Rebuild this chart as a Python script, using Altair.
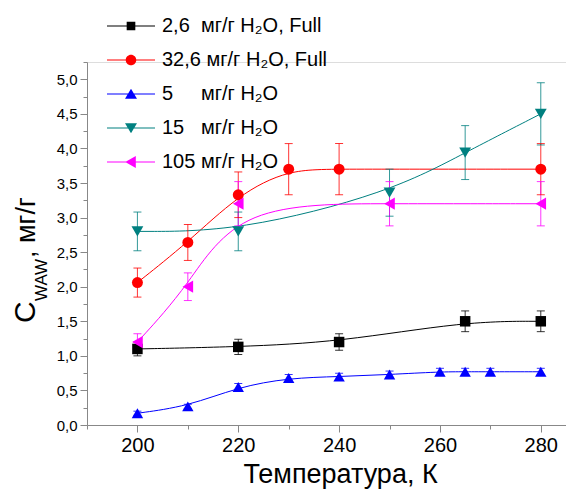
import altair as alt
import pandas as pd

FONT = "Liberation Sans"

LABELS = ["2,6\u00a0 мг/г H₂O, Full", "32,6 мг/г H₂O, Full", "5\u2007\u2007 мг/г H₂O",
          "15\u2007 мг/г H₂O", "105 мг/г H₂O"]
COLORS = ["#000000", "#ff0000", "#0000ff", "#008080", "#ff00ff"]
SHAPES = ["square", "circle", "triangle-up", "triangle-down", "triangle-left"]
SIZES = [110, 150, 170, 170, 170]

# legend symbols: line + marker (custom paths)
LINE = "M-1,-0.022H1V0.022H-1Z"
PATHS = [
    LINE + "M-0.18,-0.18H0.18V0.18H-0.18Z",
    LINE + "M-0.22,0A0.22,0.22,0,1,1,0.22,0A0.22,0.22,0,1,1,-0.22,0Z",
    LINE + "M0,-0.22L0.25,0.2L-0.25,0.2Z",
    LINE + "M0,0.22L-0.25,-0.2L0.25,-0.2Z",
    LINE + "M-0.24,0L0.2,-0.25L0.2,0.25Z",
]

# data
T1 = [200, 220, 240, 265, 280]
C1 = [1.10, 1.13, 1.20, 1.50, 1.50]
E1 = [0.10, 0.11, 0.12, 0.15, 0.15]

T2 = [200, 210, 220, 230, 240, 280]
C2 = [2.06, 2.64, 3.33, 3.70, 3.70, 3.70]
E2 = [0.21, 0.26, 0.33, 0.37, 0.37, 0.37]

T3 = [200, 210, 220, 230, 240, 250, 260, 265, 270, 280]
C3 = [0.17, 0.27, 0.55, 0.68, 0.70, 0.73, 0.77, 0.77, 0.77, 0.77]
E3 = [0.03, 0.03, 0.05, 0.05, 0.05, 0.05, 0.05, 0.05, 0.05, 0.05]

T4 = [200, 220, 250, 265, 280]
C4 = [2.80, 2.80, 3.36, 3.94, 4.50]
E4 = [0.28, 0.28, 0.34, 0.39, 0.45]

T5 = [200, 210, 220, 250, 280]
C5 = [1.20, 2.00, 3.20, 3.20, 3.20]
E5 = [0.12, 0.20, 0.32, 0.32, 0.32]

rows = []
for lab, T, C, E in zip(LABELS, [T1, T2, T3, T4, T5], [C1, C2, C3, C4, C5], [E1, E2, E3, E4, E5]):
    for t, c, e in zip(T, C, E):
        rows.append({"series": lab, "T": t, "C": c, "lo": c - e, "hi": c + e})
df = pd.DataFrame(rows)

XTICKS = list(range(190, 290, 10))
YTICKS = [i * 0.25 for i in range(0, 22)]

xaxis = alt.Axis(
    values=XTICKS,
    labelExpr="datum.value % 20 === 0 ? format(datum.value, 'd') : ''",
    tickSize={"condition": {"test": "datum.value % 20 !== 0", "value": 4}, "value": 7},
    labelFontSize=20, labelPadding=3, labelOverlap=False, labelFlush=False,
    title="Температура, К", titleFontSize=27, titleFont=FONT, titleFontWeight="normal",
    titleColor="black",
    titleX=253, titleY=57, titleBaseline="alphabetic", titleAlign="center", titleAnchor="middle",
    grid=False,
)
yaxis = alt.Axis(
    values=YTICKS,
    labelExpr="datum.value % 0.5 === 0 ? replace(format(datum.value, '.1f'), '.', ',') : ''",
    tickSize={"condition": {"test": "datum.value % 0.5 !== 0", "value": 4}, "value": 7},
    labelFontSize=15, labelPadding=3, labelOverlap=False, labelFlush=False,
    title=None, grid=False,
)

xs = alt.Scale(domain=[190, 285], nice=False, zero=False)
ys = alt.Scale(domain=[0, 5.25], nice=False, zero=False)


def X():
    return alt.X("T:Q", scale=xs, axis=xaxis, title="Температура, К")


def Y(field):
    return alt.Y(field, scale=ys, axis=yaxis, title=None)


col_nl = alt.Color("series:N", scale=alt.Scale(domain=LABELS, range=COLORS), legend=None)

base = alt.Chart(df)

lines = base.mark_line(strokeWidth=1, interpolate="basis").encode(
    x=X(), y=Y("C:Q"), color=col_nl,
)

err = base.mark_rule(strokeWidth=1, opacity=0.8).encode(
    x=X(), y=Y("lo:Q"), y2="hi:Q", color=col_nl
)
cap_lo = base.mark_tick(orient="horizontal", size=8, thickness=1, opacity=0.8).encode(
    x=X(), y=Y("lo:Q"), color=col_nl
)
cap_hi = base.mark_tick(orient="horizontal", size=8, thickness=1, opacity=0.8).encode(
    x=X(), y=Y("hi:Q"), color=col_nl
)

points = base.mark_point(filled=True, opacity=1, strokeWidth=0).encode(
    x=X(), y=Y("C:Q"),
    color=col_nl,
    shape=alt.Shape("series:N", scale=alt.Scale(domain=LABELS, range=SHAPES), legend=None),
    size=alt.Size("series:N", scale=alt.Scale(domain=LABELS, range=SIZES), legend=None),
)

leg = alt.Legend(
    orient="none", legendX=20, legendY=-60, title=None,
    labelFontSize=20, labelFont=FONT, labelColor="black", labelLimit=400,
    symbolSize=2304, symbolStrokeWidth=0, symbolOpacity=1,
    labelOffset=7, rowPadding=0, padding=0,
)
legend_layer = base.transform_filter("false").mark_point(filled=True, opacity=1).encode(
    x=X(), y=Y("C:Q"),
    color=alt.Color("series:N", scale=alt.Scale(domain=LABELS, range=COLORS), legend=leg),
    shape=alt.Shape("series:N", scale=alt.Scale(domain=LABELS, range=PATHS), legend=leg),
)

one = pd.DataFrame({"a": [0]})
t_c = alt.Chart(one).mark_text(
    text="C", angle=270, align="left", baseline="alphabetic", font=FONT, fontSize=30, color="black"
).encode(x=alt.value(-52), y=alt.value(261))
t_waw = alt.Chart(one).mark_text(
    text="WAW", angle=270, align="left", baseline="alphabetic", font=FONT, fontSize=17, color="black"
).encode(x=alt.value(-40), y=alt.value(239))
t_unit = alt.Chart(one).mark_text(
    text=", мг/г", angle=270, align="left", baseline="alphabetic", font=FONT, fontSize=27, color="black"
).encode(x=alt.value(-52), y=alt.value(196))

chart = alt.layer(
    lines, err, cap_lo, cap_hi, points, legend_layer, t_c, t_waw, t_unit
).resolve_scale(
    color="independent", shape="independent"
).properties(
    width=479, height=363,
    padding={"left": 87, "top": 62, "right": 0, "bottom": 70},
    autosize=alt.AutoSizeParams(type="none"),
).configure_view(
    strokeWidth=0, strokeOpacity=0
).configure_axis(
    domainColor="black", domainWidth=1.5, tickColor="black", tickWidth=1.5,
    labelFont=FONT, labelColor="black",
).configure(background="white")

chart.save("out.html", embed_options={"renderer": "svg", "actions": False})
